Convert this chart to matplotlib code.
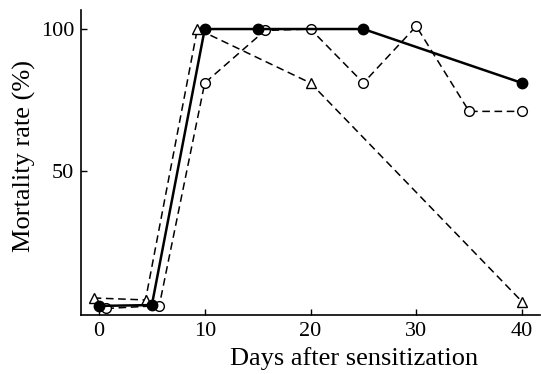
import matplotlib
matplotlib.use("Agg")
import matplotlib.pyplot as plt

# Data
days_filled = [0, 5, 10, 15, 25, 40]
rate_filled = [2.5, 2.8, 100, 100, 100, 81]

days_open = [0.7, 5.7, 10, 15.7, 20, 25, 30, 35, 40]
rate_open = [1.6, 2.6, 81, 99.5, 100, 81, 101, 71, 71]

days_tri = [-0.5, 4.4, 9.3, 20, 40]
rate_tri = [5.3, 4.6, 100, 81, 4]

xticks = [0, 10, 20, 30, 40]
yticks = [50, 100]

plt.rcParams['font.family'] = ['Liberation Serif', 'DejaVu Serif']

fig = plt.figure(figsize=(5.41, 3.74), dpi=100)
ax = fig.add_axes([81/541, 1 - 315/374, (540-81)/541, (315-10)/374])

ax.plot(days_tri, rate_tri, color='black', linestyle=(0, (5, 3)), linewidth=1.1,
        marker='^', markersize=7.5, markerfacecolor='white', markeredgecolor='black',
        markeredgewidth=1.0, zorder=3)
ax.plot(days_open, rate_open, color='black', linestyle=(0, (5, 3)), linewidth=1.1,
        marker='o', markersize=7, markerfacecolor='white', markeredgecolor='black',
        markeredgewidth=1.0, zorder=3)
ax.plot(days_filled, rate_filled, color='black', linestyle='-', linewidth=1.8,
        marker='o', markersize=7.5, markerfacecolor='black', markeredgecolor='black',
        zorder=4)

ax.set_xlim(-1.7, 41.7)
ax.set_ylim(-0.7, 106.7)
ax.set_xticks(xticks)
ax.set_yticks(yticks)
ax.tick_params(direction='in', length=4, width=1, labelsize=16, pad=5)
ax.spines['top'].set_visible(False)
ax.spines['right'].set_visible(False)
for s in ('left', 'bottom'):
    ax.spines[s].set_linewidth(1.2)

ax.set_xlabel('Days after sensitization', fontsize=19)
ax.set_ylabel('Mortality rate (%)', fontsize=19)
ax.xaxis.set_label_coords(0.595, -0.105)
ax.yaxis.set_label_coords(-0.098, 0.52)

fig.savefig('out.png', dpi=100)
